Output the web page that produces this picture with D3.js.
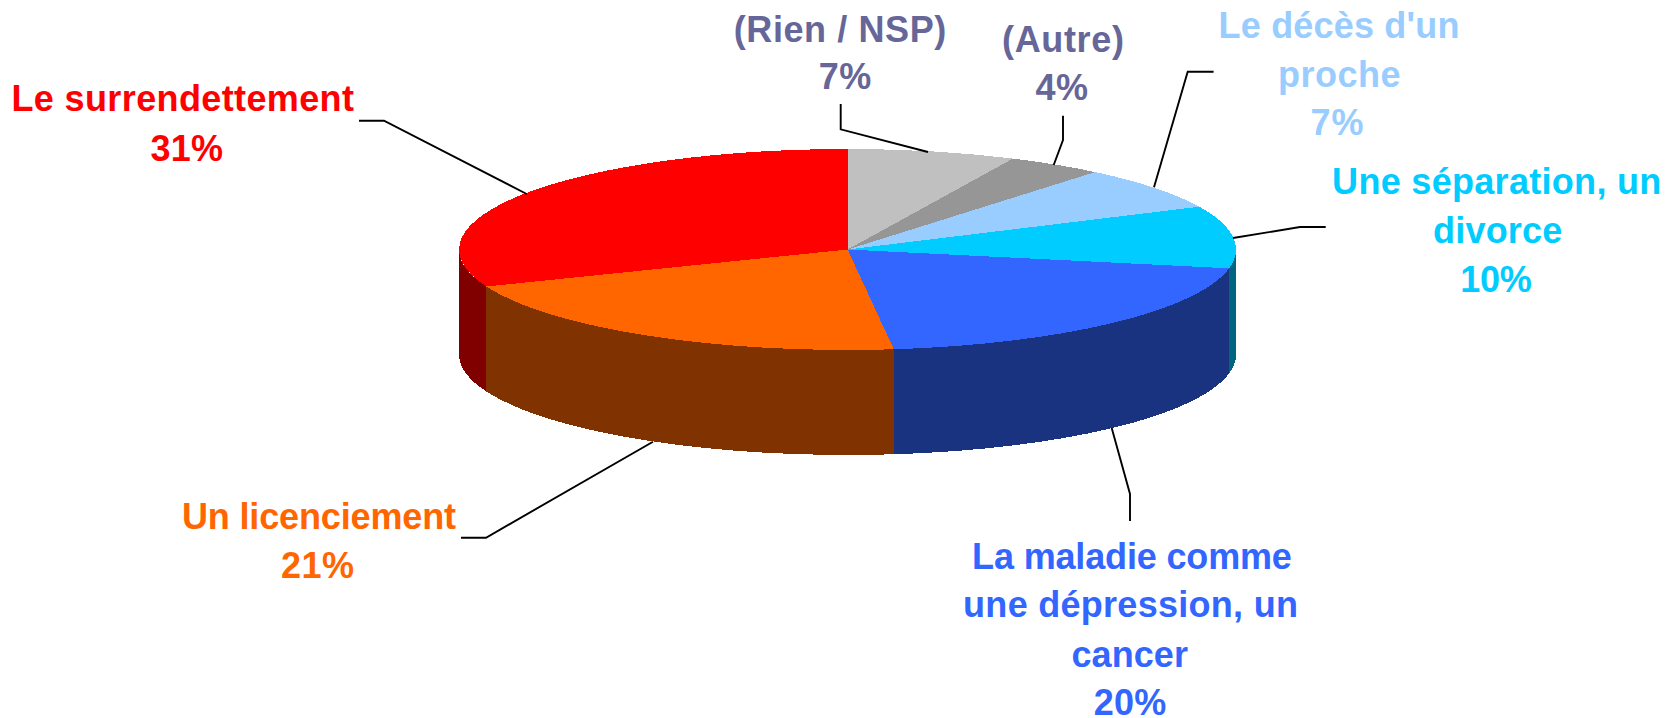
<!DOCTYPE html>
<html><head><meta charset="utf-8">
<script src="https://cdn.jsdelivr.net/npm/d3@7"></script>
<style>html,body{margin:0;padding:0;background:#fff}svg{display:block}</style>
</head><body><svg id="c" width="1678" height="718"></svg>
<script>
const categories = ["(Rien / NSP)","(Autre)","Le décès d'un proche","Une séparation, un divorce","La maladie comme une dépression, un cancer","Un licenciement","Le surrendettement"];
const values = [7,4,7,10,20.1,20.9,31];
const labelLines = [["(Rien / NSP)","7%"],["(Autre)","4%"],["Le décès d'un","proche","7%"],["Une séparation, un","divorce","10%"],["La maladie comme","une dépression, un","cancer","20%"],["Un licenciement","21%"],["Le surrendettement","31%"]];
const topColors = ["#C0C0C0","#969696","#99CCFF","#00CCFF","#3366FF","#FF6600","#FF0000"];
const sideColors = ["#606060","#4B4B4B","#4C6680","#006680","#1A3380","#803300","#800000"];
const textColors = ["#666699","#666699","#99CCFF","#00CCFF","#3366FF","#FF6600","#FF0000"];
// per line: centre x, baseline y, advance width
const lineLayout = [
 [[840,41.5,212.5],[845,89,52.5]],
 [[1063,52,121.8],[1061.7,100,52.5]],
 [[1339,37.5,240.8],[1339.3,86.7,122.5],[1337,135,53.2]],
 [[1496.7,194,329.2],[1497.7,243,129.2],[1496,291.5,71.5]],
 [[1132,568.5,319.8],[1130.5,617,334.8],[1129.7,666.5,116.5],[1130,714.5,72.5]],
 [[319,529,274.2],[317.5,578,72.8]],
 [[182.7,111,342.5],[186.7,160.5,72.5]]];
const leaders = [
 [[840.7,104],[840.7,129.3],[928,152]],
 [[1063,115.7],[1063,140],[1053.7,165]],
 [[1213.6,71.7],[1187.7,71.7],[1154,187.3]],
 [[1325.7,227],[1300,227],[1233,238]],
 [[1130,521],[1130,494],[1111.7,428]],
 [[461,537.7],[486,537.7],[653,441.7]],
 [[359,120.7],[384,120.7],[526.7,194]]];

const cx=847.6, cy=249.5, rx=388.5, ry=100.5, depth=105;
const svg=d3.select("#c");
const pie=d3.pie().sort(null).value(d=>d)(values);
const X=a=>cx+rx*Math.sin(a), Y=a=>cy-ry*Math.cos(a);
function wedge(d){
  return `M${cx},${cy}L${X(d.startAngle)},${Y(d.startAngle)}A${rx},${ry} 0 ${d.endAngle-d.startAngle>Math.PI?1:0} 1 ${X(d.endAngle)},${Y(d.endAngle)}Z`;}
function wall(d){const a0=Math.max(d.startAngle,Math.PI/2),a1=Math.min(d.endAngle,3*Math.PI/2);
  if(a1<=a0) return null;
  return `M${X(a0)},${Y(a0)}A${rx},${ry} 0 0 1 ${X(a1)},${Y(a1)}L${X(a1)},${Y(a1)+depth}A${rx},${ry} 0 0 0 ${X(a0)},${Y(a0)+depth}Z`;}
svg.append("g").attr("shape-rendering","crispEdges").selectAll("path").data(pie.filter(wall)).join("path").attr("d",wall).attr("fill",d=>sideColors[d.index]);
svg.append("g").attr("shape-rendering","crispEdges").selectAll("path").data(pie).join("path").attr("d",wedge).attr("fill",d=>topColors[d.index]);
const line=d3.line();
svg.append("g").selectAll("path").data(leaders).join("path").attr("d",line).attr("fill","none").attr("stroke","#000").attr("stroke-width",1.9);
const g=svg.append("g").attr("font-family","'Liberation Sans',Arial,sans-serif").attr("font-weight","bold").attr("font-size",36).attr("text-anchor","middle");
labelLines.forEach((ls,i)=>{
  ls.forEach((s,j)=>{const [x,y,w]=lineLayout[i][j];
    g.append("text").attr("fill",textColors[i]).attr("x",x).attr("y",y).attr("textLength",w).attr("lengthAdjust","spacing").text(s);});});
</script></body></html>
